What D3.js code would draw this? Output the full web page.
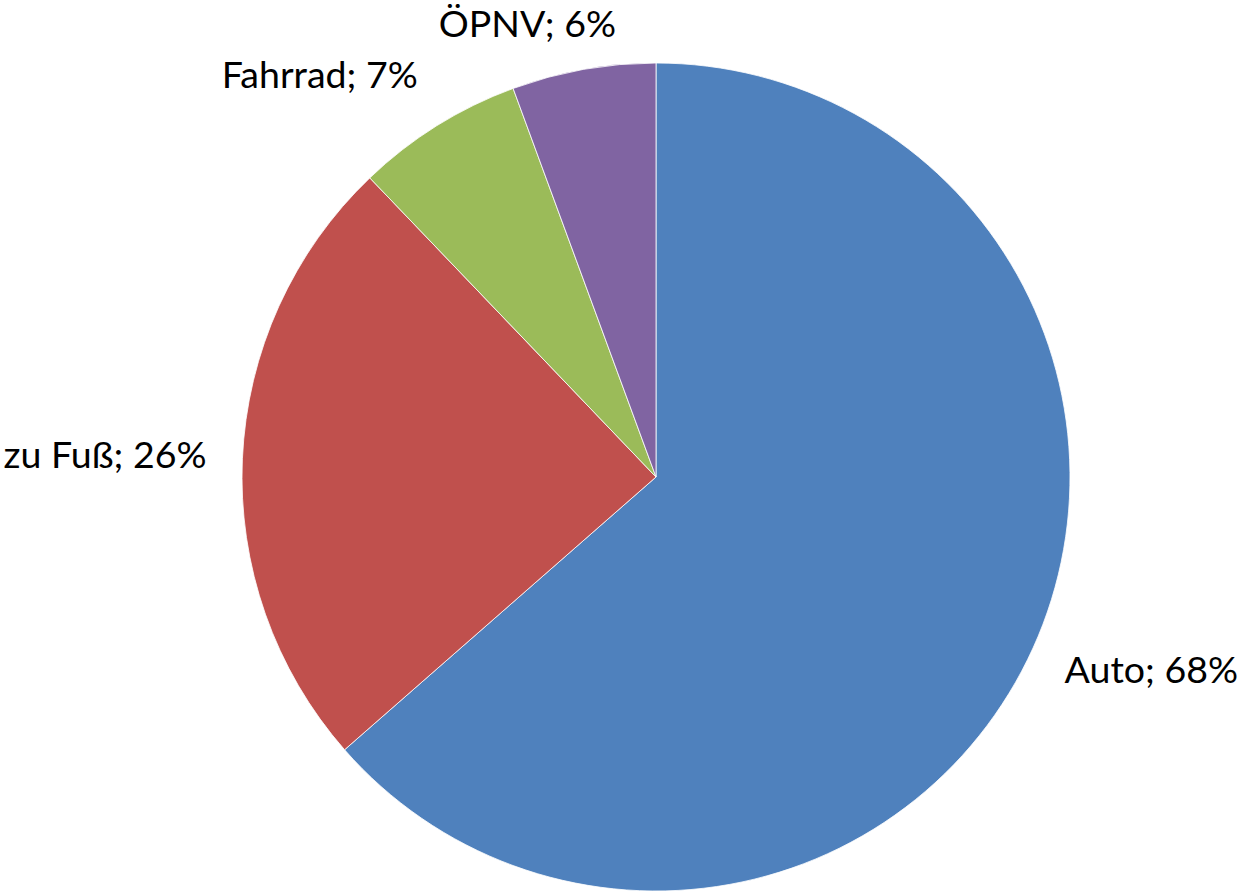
<!DOCTYPE html>
<html>
<head>
<meta charset="utf-8">
<script src="https://cdn.jsdelivr.net/npm/d3@7"></script>
<style>
  body { margin: 0; background: #fff; }
  text { font-family: Lato, "Open Sans", sans-serif; fill: #000; }
</style>
</head>
<body>
<div id="chart"></div>
<script>
//************* data ***************/
var categories = ["Auto", "zu Fuß", "Fahrrad", "ÖPNV"];
var values = [68, 26, 7, 6];
var labels = ["Auto; 68%", "zu Fuß; 26%", "Fahrrad; 7%", "ÖPNV; 6%"];
var colors = ["#4F81BD", "#C0504D", "#9BBB59", "#8064A2"];

//************* set dimensions ***************/
var width = 1242, height = 893;
var cx = 656, cy = 477, radius = 414, labelRadius = 450;

var svg = d3.select("#chart")
  .append("svg")
    .attr("width", width)
    .attr("height", height)
  .append("g")
    .attr("transform", "translate(" + cx + "," + cy + ")");

var data = categories.map(function(c, i) { return { cat: c, value: values[i], label: labels[i] }; });

var pie = d3.pie().sort(null).value(function(d) { return d.value; });
var arcs = pie(data);

var color = d3.scaleOrdinal().domain(categories).range(colors);
var arc = d3.arc().innerRadius(0).outerRadius(radius);

// slices
svg.append("g")
  .selectAll("path")
  .data(arcs)
  .enter()
  .append("path")
    .attr("d", arc)
    .attr("fill", function(d) { return color(d.data.cat); })
    .attr("stroke", "#fff")
    .attr("stroke-width", 0.8);

// labels, placed outside the slice end, kept inside the chart area
var lab = svg.append("g")
  .selectAll("text")
  .data(arcs)
  .enter()
  .append("text")
    .text(function(d) { return d.data.label; })
    .style("font-size", "37.5px")
    .attr("text-anchor", "middle")
    .attr("dy", "0.36em");

lab.attr("transform", function(d) {
  var a = (d.startAngle + d.endAngle) / 2;
  var s = Math.sin(a), c = Math.cos(a);
  var w = this.getComputedTextLength();
  var k = Math.min(1, Math.abs(s) * 3.2);
  var x = labelRadius * s + (s < 0 ? -1 : 1) * w / 2 * k;
  var y = -labelRadius * c - c * 22 - 2;
  return "translate(" + x + "," + y + ")";
});

lab.each(function() {
  var b = this.getBBox();
  var t = d3.select(this).attr("transform");
  var m = /translate\(([-\d.]+),([-\d.]+)\)/.exec(t);
  var x = +m[1], y = +m[2];
  var top = cy + y + b.y;
  if (top < 0) y -= top;
  var right = cx + x + b.x + b.width;
  if (right > width - 4) x -= right - (width - 4);
  d3.select(this).attr("transform", "translate(" + x + "," + y + ")");
});
</script>
</body>
</html>
